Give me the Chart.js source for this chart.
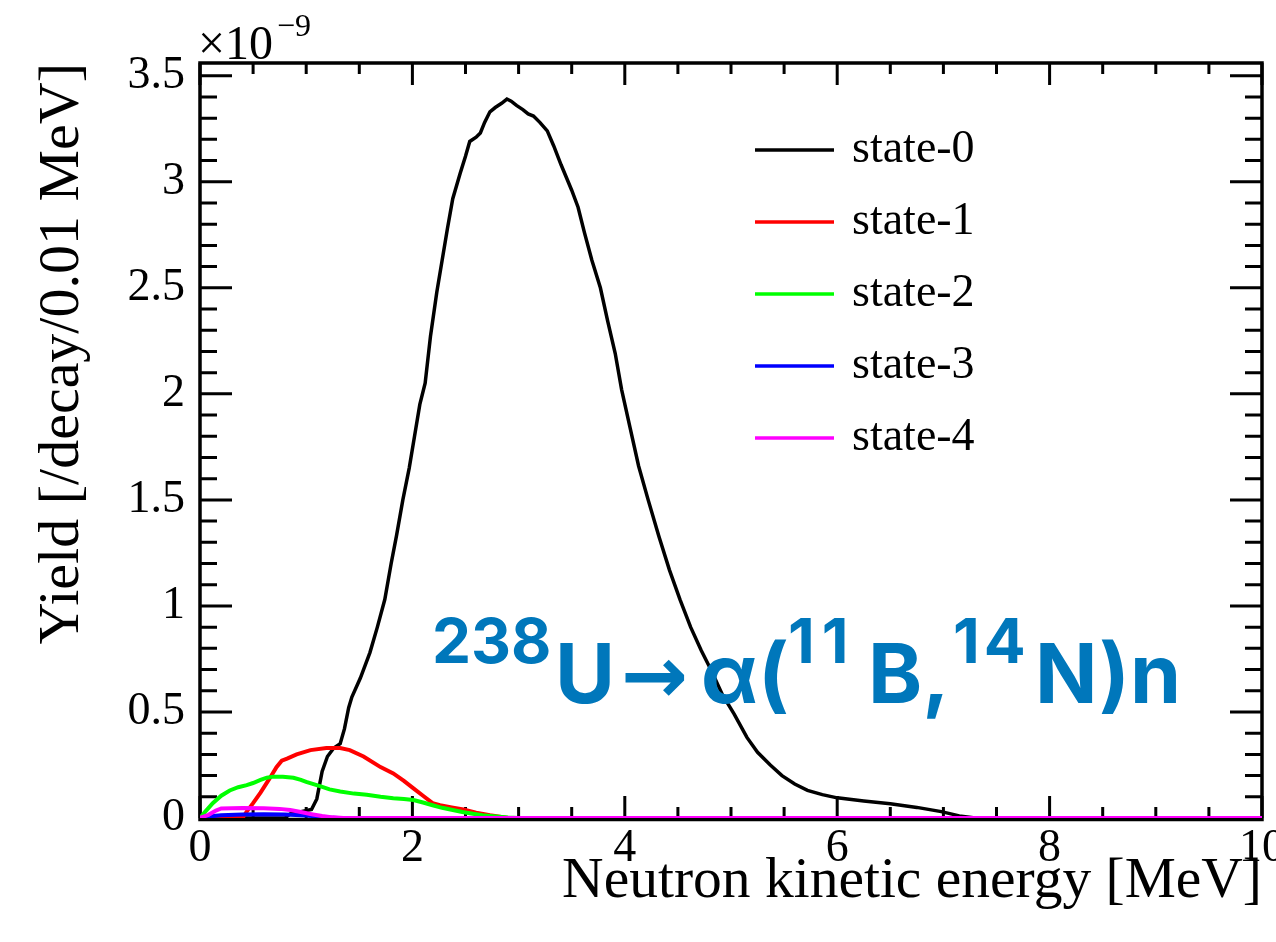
<!DOCTYPE html>
<html>
<head>
<meta charset="utf-8">
<script src="https://cdn.jsdelivr.net/npm/chart.js@4.4.1/dist/chart.umd.min.js"></script>
<style>
  html, body { margin: 0; padding: 0; background: #fff; }
  #wrap { width: 1276px; height: 942px; }
</style>
</head>
<body>
<div id="wrap"><canvas id="chart"></canvas></div>
<script>
'use strict';
// ---------------------- Data (yield in units of 1e-9 /decay/0.01 MeV) -----------------
const stateNames = ['state-0', 'state-1', 'state-2', 'state-3', 'state-4'];
const stateColors = ['#000000', '#ff0000', '#00ff00', '#0000ff', '#ff00ff'];

const energy0 = [0, 0.8, 0.85, 0.95, 1.05, 1.10, 1.15, 1.20, 1.26, 1.32, 1.36, 1.40, 1.43, 1.51, 1.60,
  1.67, 1.74, 1.80, 1.85, 1.91, 1.97, 2.02, 2.07, 2.12, 2.17, 2.23, 2.28, 2.33, 2.38, 2.45, 2.50,
  2.54, 2.60, 2.64, 2.68, 2.73, 2.78, 2.84, 2.89, 2.93, 2.98, 3.04, 3.09, 3.14, 3.20, 3.27, 3.33,
  3.40, 3.45, 3.50, 3.56, 3.62, 3.69, 3.77, 3.84, 3.91, 3.97, 4.05, 4.13, 4.22, 4.32, 4.42, 4.52,
  4.62, 4.72, 4.81, 4.92, 5.03, 5.15, 5.25, 5.37, 5.48, 5.60, 5.72, 5.86, 6.0, 6.25, 6.5, 6.75,
  6.98, 7.15, 7.3, 10];
const yield0 = [0, 0, 0.02, 0.03, 0.04, 0.09, 0.22, 0.29, 0.33, 0.35, 0.42, 0.52, 0.57, 0.66, 0.78,
  0.90, 1.03, 1.20, 1.33, 1.50, 1.65, 1.80, 1.95, 2.05, 2.27, 2.48, 2.63, 2.78, 2.92, 3.04, 3.12,
  3.19, 3.21, 3.23, 3.28, 3.33, 3.35, 3.37, 3.39, 3.38, 3.36, 3.34, 3.32, 3.31, 3.28, 3.24, 3.17,
  3.08, 3.02, 2.96, 2.88, 2.76, 2.63, 2.50, 2.34, 2.19, 2.02, 1.84, 1.66, 1.50, 1.33, 1.17, 1.03,
  0.90, 0.79, 0.70, 0.58, 0.49, 0.38, 0.31, 0.25, 0.20, 0.16, 0.13, 0.11, 0.095, 0.08, 0.067, 0.05,
  0.03, 0.01, 0, 0];

const energy1 = [0, 0.40, 0.44, 0.50, 0.57, 0.66, 0.72, 0.77, 0.82, 0.91, 1.04, 1.19, 1.32, 1.41,
  1.54, 1.70, 1.82, 1.92, 2.01, 2.10, 2.19, 2.26, 2.37, 2.48, 2.60, 2.73, 2.90, 10];
const yield1 = [0, 0, 0.03, 0.07, 0.12, 0.19, 0.24, 0.27, 0.28, 0.30, 0.32, 0.33, 0.33, 0.32,
  0.29, 0.24, 0.21, 0.175, 0.14, 0.105, 0.07, 0.06, 0.05, 0.04, 0.025, 0.013, 0, 0];

const energy2 = [0, 0.05, 0.12, 0.20, 0.28, 0.36, 0.44, 0.50, 0.57, 0.63, 0.69, 0.78, 0.88, 0.95,
  1.0, 1.13, 1.22, 1.32, 1.45, 1.57, 1.70, 1.82, 1.92, 2.01, 2.10, 2.19, 2.28, 2.38, 2.47, 2.57,
  2.66, 2.76, 2.90, 3.0, 10];
const yield2 = [0, 0.03, 0.07, 0.105, 0.13, 0.145, 0.155, 0.165, 0.18, 0.19, 0.195, 0.195, 0.19, 0.18,
  0.17, 0.15, 0.135, 0.125, 0.115, 0.11, 0.10, 0.093, 0.09, 0.085, 0.073, 0.06, 0.048, 0.038, 0.028, 0.02,
  0.013, 0.008, 0.002, 0, 0];

const energy3 = [0, 0.1, 0.2, 0.4, 0.6, 0.8, 1.0, 1.1, 1.2, 1.3, 10];
const yield3 = [0, 0.008, 0.013, 0.017, 0.018, 0.016, 0.012, 0.007, 0.002, 0, 0];

const energy4 = [0, 0.08, 0.15, 0.20, 0.4, 0.6, 0.75, 0.85, 0.95, 1.05, 1.15, 1.25, 1.35, 10];
const yield4 = [0, 0.015, 0.035, 0.045, 0.047, 0.046, 0.043, 0.038, 0.028, 0.018, 0.009, 0.003, 0, 0];

const xTickValues = [0, 2, 4, 6, 8, 10];
const yTickValues = [0, 0.5, 1, 1.5, 2, 2.5, 3, 3.5];
const yMax = 3.56;

const reactionParts = [
  { text: '238', sup: true },
  { text: 'U' },
  { text: '→' },
  { text: 'α(' },
  { text: '11', sup: true },
  { text: 'B,' },
  { text: '14', sup: true },
  { text: 'N)n' }
];

const seriesEnergy = [energy0, energy1, energy2, energy3, energy4];
const seriesYield = [yield0, yield1, yield2, yield3, yield4];

// ---------------------- Plugins -----------------
// ROOT style frame with inward ticks on all four sides
const frameTicks = {
  id: 'frameTicks',
  beforeDatasetsDraw(chart) {
    const { ctx, chartArea: a, scales: { x, y } } = chart;
    ctx.save();
    ctx.strokeStyle = '#000';
    ctx.lineWidth = 3;
    ctx.beginPath();
    const tickLine = (v, scale, len) => {
      const p = scale.getPixelForValue(v);
      if (scale.axis === 'x') {
        ctx.moveTo(p, a.bottom); ctx.lineTo(p, a.bottom - len);
        ctx.moveTo(p, a.top); ctx.lineTo(p, a.top + len);
      } else {
        ctx.moveTo(a.left, p); ctx.lineTo(a.left + len, p);
        ctx.moveTo(a.right, p); ctx.lineTo(a.right - len, p);
      }
    };
    const drawAxis = (scale, nMinor, majorLen, minorLen) => {
      const t = scale.ticks;
      for (let i = 0; i < t.length; i++) {
        tickLine(t[i].value, scale, majorLen);
        const step = i < t.length - 1 ? t[i + 1].value - t[i].value : t[1].value - t[0].value;
        for (let k = 1; k < nMinor; k++) {
          const v = t[i].value + k * step / nMinor;
          if (v < scale.max) tickLine(v, scale, minorLen);
        }
      }
    };
    drawAxis(x, 4, 22, 11);
    drawAxis(y, 5, 32, 17);
    ctx.stroke();
    ctx.lineWidth = 3.5;
    ctx.strokeRect(a.left, a.top, a.right - a.left, a.bottom + 1.5 - a.top);
    ctx.restore();
  }
};

const legendBox = {
  id: 'legendBox',
  afterDatasetsDraw(chart) {
    const { ctx } = chart;
    ctx.save();
    ctx.font = '46px "Liberation Serif"';
    ctx.textBaseline = 'middle';
    ctx.textAlign = 'left';
    chart.data.datasets.forEach((ds, i) => {
      const yy = 150 + i * 72;
      ctx.strokeStyle = ds.borderColor;
      ctx.lineWidth = 3.5;
      ctx.beginPath();
      ctx.moveTo(755, yy);
      ctx.lineTo(834, yy);
      ctx.stroke();
      ctx.fillStyle = '#000';
      ctx.fillText(ds.label, 852, yy);
    });
    ctx.restore();
  }
};

const extras = {
  id: 'extras',
  afterDraw(chart) {
    const { ctx, chartArea: a } = chart;
    ctx.save();
    ctx.fillStyle = '#000';
    ctx.textBaseline = 'alphabetic';
    ctx.font = '48px "Liberation Serif"';
    ctx.fillText('×10', a.left - 2, 59);
    const w = ctx.measureText('×10').width;
    ctx.font = '32px "Liberation Serif"';
    ctx.fillText('−9', a.left + w + 2, 36);

    // reaction label, pieces placed along the line
    const partX = [432, 555, 621, 701, 788, 868, 953, 1035];
    const partSpacing = [0, 0, 0, 0, 7, 0, 4, 0];
    ctx.fillStyle = '#0077bb';
    reactionParts.forEach((part, i) => {
      if (part.sup) ctx.font = '700 62px Inter';
      else if (part.text === '→') ctx.font = '700 80px "DejaVu Sans"';
      else ctx.font = '700 82px Inter';
      ctx.letterSpacing = partSpacing[i] + 'px';
      ctx.fillText(part.text, partX[i], part.sup ? 663 : 703);
    });
    ctx.restore();
  }
};

// ---------------------- Chart -----------------
Chart.defaults.font.family = '"Liberation Serif"';
Chart.defaults.color = '#000';

const datasets = stateNames.map((name, i) => ({
  label: name,
  data: seriesEnergy[i].map((e, j) => ({ x: e, y: seriesYield[i][j] })),
  borderColor: stateColors[i],
  backgroundColor: stateColors[i],
  borderWidth: i === 0 ? 3.5 : 4,
  pointRadius: 0,
  tension: 0,
  order: stateNames.length - 1 - i
}));

new Chart(document.getElementById('chart'), {
  type: 'line',
  data: { datasets },
  options: {
    responsive: true,
    maintainAspectRatio: false,
    animation: false,
    devicePixelRatio: 1,
    layout: { padding: { top: 63, right: 14, left: 0, bottom: 0 } },
    plugins: { legend: { display: false }, tooltip: { enabled: false } },
    scales: {
      x: {
        type: 'linear',
        min: 0,
        max: 10,
        grid: { display: false, drawTicks: false },
        border: { display: false },
        afterBuildTicks: s => { s.ticks = xTickValues.map(v => ({ value: v })); },
        afterFit: s => { s.height = 124; s.paddingLeft = 0; s.paddingRight = 0; },
        ticks: { autoSkip: false, maxRotation: 0, padding: 3, color: '#000', font: { size: 46 }, callback: v => String(v) },
        title: { display: true, text: 'Neutron kinetic energy [MeV]', align: 'end', color: '#000',
          font: { size: 57.5 }, padding: { top: 0, bottom: 26 } }
      },
      y: {
        type: 'linear',
        min: 0,
        max: yMax,
        grid: { display: false, drawTicks: false },
        border: { display: false },
        afterBuildTicks: s => { s.ticks = yTickValues.map(v => ({ value: v })); },
        afterFit: s => { s.width = 200; s.paddingTop = 0; s.paddingBottom = 0; },
        ticks: { autoSkip: false, padding: 15, color: '#000', font: { size: 46 }, callback: v => String(v) },
        title: { display: true, text: 'Yield [/decay/0.01 MeV]', align: 'end', color: '#000',
          font: { size: 58 }, padding: { top: 28, bottom: 0 } }
      }
    }
  },
  plugins: [frameTicks, legendBox, extras]
});
</script>
</body>
</html>
